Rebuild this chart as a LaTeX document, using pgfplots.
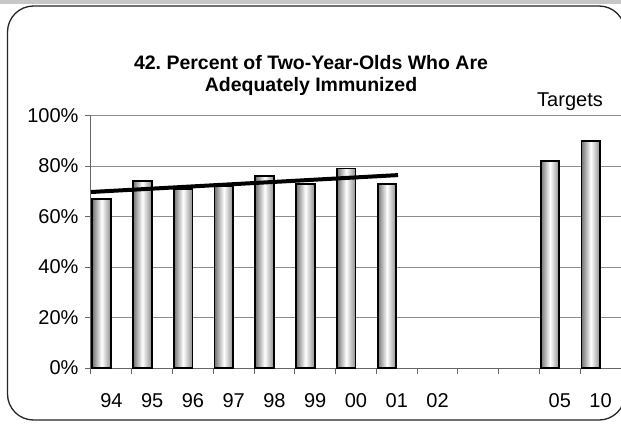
\documentclass[border=0pt]{standalone}
\usepackage{fontspec}
\setmainfont{Liberation Sans}
\usepackage{pgfplots}
\pgfplotsset{compat=1.18}
\pgfplotsset{
  shadedbar/.style={ybar, bar width=18.6pt, bar shift=-9.8pt, draw=black,
    line width=1.8pt, left color=black!55, right color=black!45, middle color=white},
}
\frenchspacing
\begin{document}
\begin{tikzpicture}
\useasboundingbox (0,0) rectangle (621pt,-425pt);
\clip (0,0) rectangle (621pt,-425pt);
\fill[white] (0,0) rectangle (621pt,-425pt);
\fill[black!22] (0,0) rectangle (621pt,-4pt);
\draw[black!85, line width=1.3pt, rounded corners=26pt] (7.5pt,-6pt) rectangle (625pt,-420pt);
\begin{axis}[
  scale only axis,
  width=530pt, height=252.5pt,
  at={(91pt,-368pt)}, anchor=south west,
  xmin=-0.5, xmax=12.5, ymin=0, ymax=100,
  axis x line*=bottom, axis y line*=left,
  axis line style={black!60, line width=1pt},
  tick align=outside,
  major tick length=6pt,
  tick style={black!60, line width=1pt},
  xtick={-0.5,0.5,...,12.5}, xticklabels={},
  extra x ticks={0,1,...,12},
  extra x tick labels={94,95,96,97,98,99,00,01,02,,,05,10},
  extra x tick style={major tick length=0pt},
  ytick={0,20,...,100},
  yticklabel={\pgfmathprintnumber{\tick}\%},
  /pgf/number format/assume math mode=true,
  ymajorgrids,
  grid style={black!45, line width=0.9pt},
  tick label style={font=\fontsize{20}{22}\selectfont},
  x tick label style={yshift=-22pt},
  y tick label style={xshift=-3pt},
]
% actual values 1994-2001
\addplot[shadedbar] coordinates {(0,67)};
\addplot[shadedbar] coordinates {(1,74)};
\addplot[shadedbar] coordinates {(2,71)};
\addplot[shadedbar] coordinates {(3,72)};
\addplot[shadedbar] coordinates {(4,76)};
\addplot[shadedbar] coordinates {(5,73)};
\addplot[shadedbar] coordinates {(6,79)};
\addplot[shadedbar] coordinates {(7,73)};
% targets 2005, 2010
\addplot[shadedbar] coordinates {(11,82)};
\addplot[shadedbar] coordinates {(12,90)};
% trend line
\addplot[black, line width=4pt] coordinates {(-0.5,69.7) (7.03,76.4)};
\end{axis}
\node[font=\fontsize{19.5}{22}\selectfont\bfseries, align=center] at (311pt,-75pt)
  {42. Percent of Two-Year-Olds Who Are\\Adequately Immunized};
\node[font=\fontsize{20}{22}\selectfont] at (570pt,-102pt) {Targets};
\end{tikzpicture}
\end{document}
